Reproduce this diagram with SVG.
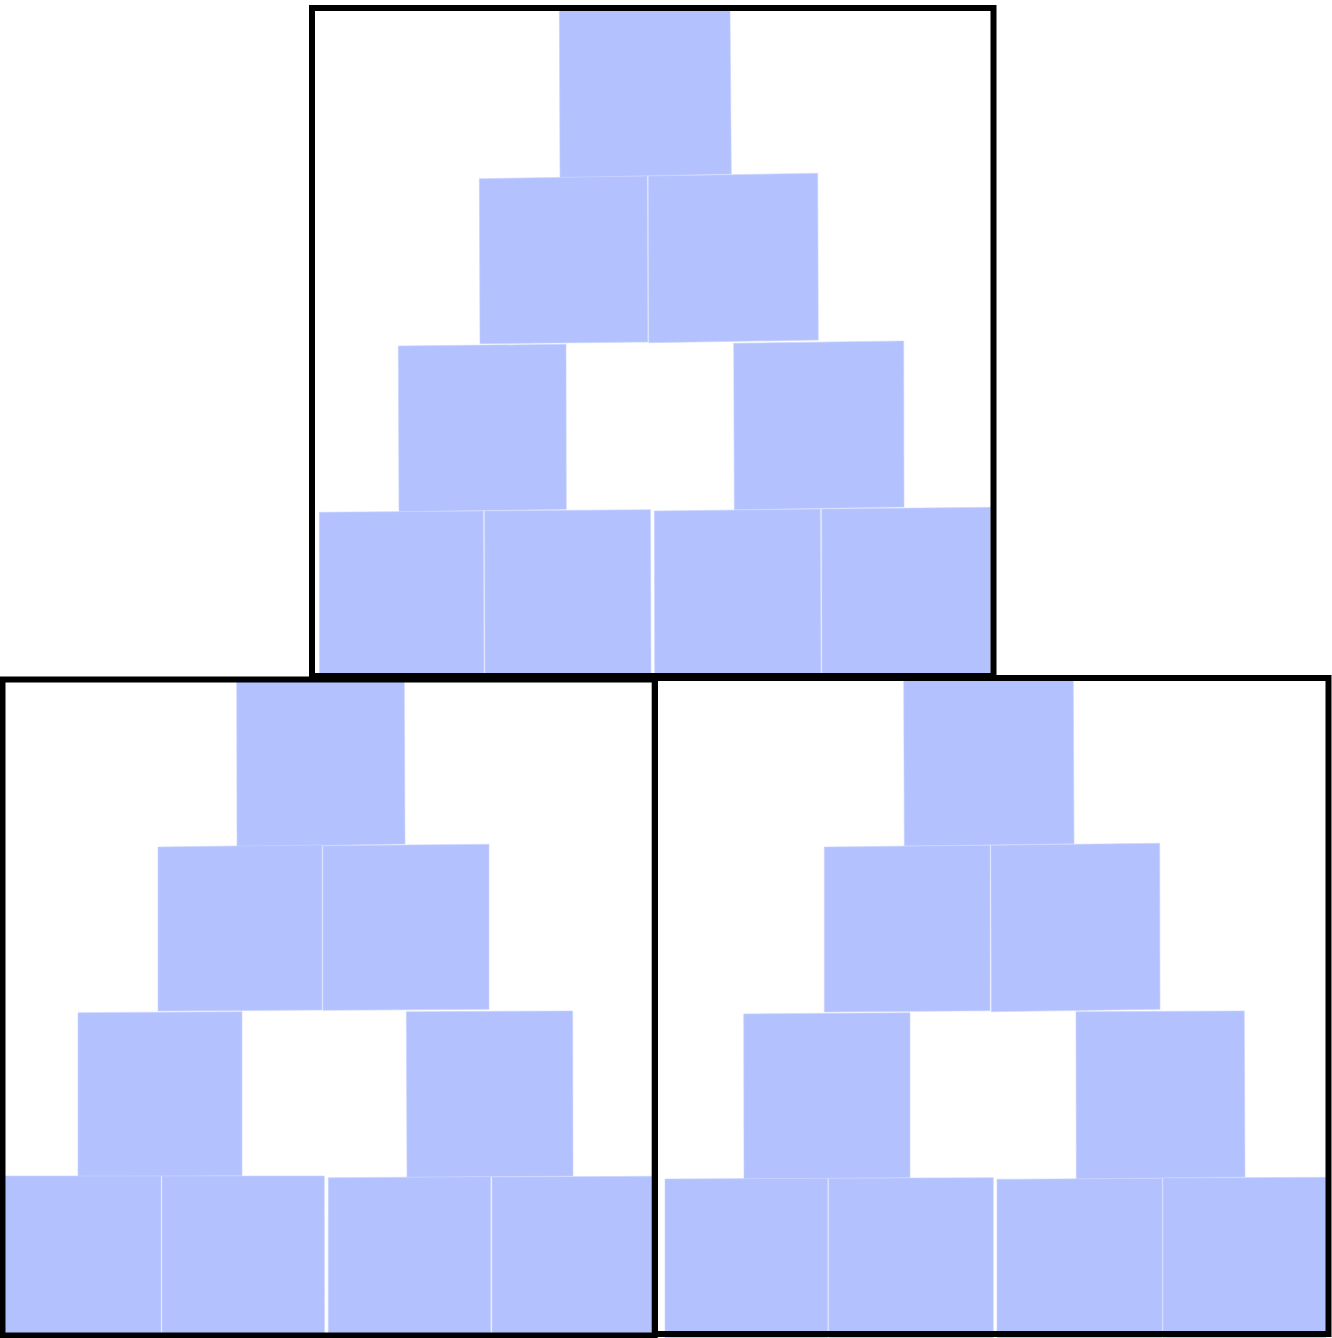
<svg xmlns="http://www.w3.org/2000/svg" width="1332" height="1338" viewBox="0 0 1332 1338">
<style>
.tile{fill:#b3c2fe;stroke:#c9d3ff;stroke-width:0.6}
.frame{fill:none;stroke:#000;stroke-width:6}
</style>
<rect width="1332" height="1338" fill="#fff"/>
<g id="top-tiles">
<polygon class="tile" points="559.3,9 730,9 731.3,174 560,177.7"/>
<polygon class="tile" points="479.3,178.7 647.2,176 647.8,342 480,343.7"/>
<polygon class="tile" points="648.3,176 817.7,173.3 818.3,340 648.8,342.7"/>
<polygon class="tile" points="398.3,346 566,344.3 566.3,509.3 399,511.7"/>
<polygon class="tile" points="733.7,343.3 903.7,341 904,507 734.3,509.7"/>
<polygon class="tile" points="319.3,512.3 483.3,511 484,680 319.5,680"/>
<polygon class="tile" points="484.6,511 650.5,509.7 651,680 485,680"/>
<polygon class="tile" points="654.3,511 820.3,509 821,680 654.7,680"/>
<polygon class="tile" points="821.7,509 990.5,507.3 990.5,680 822,680"/>
</g>
<g id="bottom-left-tiles">
<polygon class="tile" points="236.7,681 404.3,681 405,844 237,846.7"/>
<polygon class="tile" points="158,847 322,845 322,1010 158,1011"/>
<polygon class="tile" points="322.9,845.7 489,844.3 489,1009.3 322.9,1010.3"/>
<polygon class="tile" points="78,1012.7 242,1011.7 242,1175.7 78,1176.5"/>
<polygon class="tile" points="406.3,1011.7 572.7,1011 573,1176 407,1177.3"/>
<polygon class="tile" points="5,1176 161,1176 161,1338 5,1338"/>
<polygon class="tile" points="162,1176 324.3,1176 324.5,1338 162,1338"/>
<polygon class="tile" points="328.3,1177.7 490.7,1176.7 490.7,1338 328.3,1338"/>
<polygon class="tile" points="492,1177 652,1176.3 652,1338 492,1338"/>
</g>
<g id="bottom-right-tiles">
<polygon class="tile" points="903.7,679 1073.3,679 1074,843.7 904.3,846"/>
<polygon class="tile" points="824.3,847 990,845.3 990,1010.7 824.3,1012"/>
<polygon class="tile" points="990.9,845.3 1159.7,843.3 1160,1009.3 991.3,1011.7"/>
<polygon class="tile" points="743.7,1014 910,1012.7 910,1177.7 744,1179"/>
<polygon class="tile" points="1076,1011.7 1244.3,1011 1245,1177 1076.3,1179"/>
<polygon class="tile" points="665,1179 827.7,1178.3 827.7,1338 665,1338"/>
<polygon class="tile" points="828.7,1178.3 993.3,1177.7 993.3,1338 828.7,1338"/>
<polygon class="tile" points="997,1179.3 1162.3,1178.3 1162.3,1338 997,1338"/>
<polygon class="tile" points="1163,1178 1326,1177.3 1326,1338 1163,1338"/>
</g>
<g id="frames">
<rect id="frame-top" class="frame" x="312" y="8" width="681.5" height="668"/>
<rect id="frame-bottom-left" class="frame" x="2.5" y="679.5" width="652.2" height="656" stroke-width="5.5"/>
<rect id="frame-bottom-right" class="frame" x="655" y="678" width="673.5" height="656"/>
</g>
<g id="connectors"/>
</svg>
